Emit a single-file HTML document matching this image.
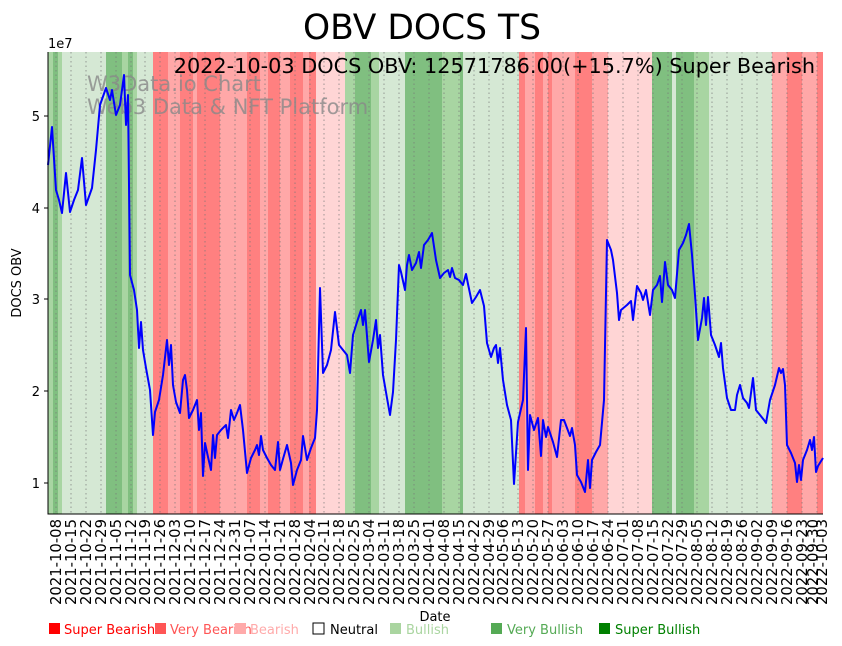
<!DOCTYPE html>
<html><head><meta charset="utf-8"><style>body{margin:0;background:#fff}svg{display:block}text{font-family:"DejaVu Sans","Liberation Sans",sans-serif}</style></head>
<body>
<svg width="842" height="646" viewBox="0 0 842 646" xmlns="http://www.w3.org/2000/svg">
<text x="422" y="39" font-size="34.5" text-anchor="middle">OBV DOCS TS</text>
<g>
<rect x="48" y="52" width="5" height="462" fill="#a8d5a2"/>
<rect x="53" y="52" width="5" height="462" fill="#80bf80"/>
<rect x="58" y="52" width="4" height="462" fill="#a8d5a2"/>
<rect x="62" y="52" width="44" height="462" fill="#d5e8d4"/>
<rect x="106" y="52" width="16" height="462" fill="#80bf80"/>
<rect x="122" y="52" width="6" height="462" fill="#a8d5a2"/>
<rect x="128" y="52" width="5" height="462" fill="#80bf80"/>
<rect x="133" y="52" width="4" height="462" fill="#a8d5a2"/>
<rect x="137" y="52" width="16" height="462" fill="#d5e8d4"/>
<rect x="153" y="52" width="15" height="462" fill="#ff8080"/>
<rect x="168" y="52" width="12" height="462" fill="#ffa8a8"/>
<rect x="180" y="52" width="13" height="462" fill="#ff8080"/>
<rect x="193" y="52" width="4" height="462" fill="#ffa8a8"/>
<rect x="197" y="52" width="23" height="462" fill="#ff8080"/>
<rect x="220" y="52" width="27" height="462" fill="#ffa8a8"/>
<rect x="247" y="52" width="13" height="462" fill="#ff8080"/>
<rect x="260" y="52" width="8" height="462" fill="#ffa8a8"/>
<rect x="268" y="52" width="12" height="462" fill="#ff8080"/>
<rect x="280" y="52" width="10" height="462" fill="#ffa8a8"/>
<rect x="290" y="52" width="13" height="462" fill="#ff8080"/>
<rect x="303" y="52" width="6" height="462" fill="#ffa8a8"/>
<rect x="309" y="52" width="7" height="462" fill="#ff8080"/>
<rect x="316" y="52" width="29" height="462" fill="#ffd5d5"/>
<rect x="345" y="52" width="10" height="462" fill="#a8d5a2"/>
<rect x="355" y="52" width="16" height="462" fill="#80bf80"/>
<rect x="371" y="52" width="8" height="462" fill="#a8d5a2"/>
<rect x="379" y="52" width="26" height="462" fill="#d5e8d4"/>
<rect x="405" y="52" width="37" height="462" fill="#80bf80"/>
<rect x="442" y="52" width="18" height="462" fill="#a8d5a2"/>
<rect x="460" y="52" width="3" height="462" fill="#80bf80"/>
<rect x="463" y="52" width="56" height="462" fill="#d5e8d4"/>
<rect x="519" y="52" width="6" height="462" fill="#ff8080"/>
<rect x="525" y="52" width="10" height="462" fill="#ffa8a8"/>
<rect x="535" y="52" width="8" height="462" fill="#ff8080"/>
<rect x="543" y="52" width="5" height="462" fill="#ffa8a8"/>
<rect x="548" y="52" width="4" height="462" fill="#ff8080"/>
<rect x="552" y="52" width="23" height="462" fill="#ffa8a8"/>
<rect x="575" y="52" width="17" height="462" fill="#ff8080"/>
<rect x="592" y="52" width="16" height="462" fill="#ffa8a8"/>
<rect x="608" y="52" width="44" height="462" fill="#ffd5d5"/>
<rect x="652" y="52" width="20" height="462" fill="#80bf80"/>
<rect x="672" y="52" width="4" height="462" fill="#d5e8d4"/>
<rect x="676" y="52" width="18" height="462" fill="#80bf80"/>
<rect x="694" y="52" width="15" height="462" fill="#a8d5a2"/>
<rect x="709" y="52" width="63" height="462" fill="#d5e8d4"/>
<rect x="772" y="52" width="15" height="462" fill="#ffa8a8"/>
<rect x="787" y="52" width="15" height="462" fill="#ff8080"/>
<rect x="802" y="52" width="15" height="462" fill="#ffa8a8"/>
<rect x="817" y="52" width="6" height="462" fill="#ff8080"/>
</g>
<g stroke="#777" stroke-width="0.7" stroke-dasharray="1.5,3">
<path d="M56 52V514M71 52V514M86 52V514M101 52V514M116 52V514M131 52V514M145 52V514M160 52V514M175 52V514M190 52V514M205 52V514M220 52V514M235 52V514M250 52V514M265 52V514M280 52V514M295 52V514M310 52V514M324 52V514M339 52V514M354 52V514M369 52V514M384 52V514M399 52V514M414 52V514M429 52V514M444 52V514M459 52V514M474 52V514M489 52V514M503 52V514M518 52V514M533 52V514M548 52V514M563 52V514M578 52V514M593 52V514M608 52V514M623 52V514M638 52V514M653 52V514M668 52V514M682 52V514M697 52V514M712 52V514M727 52V514M742 52V514M757 52V514M772 52V514M787 52V514M802 52V514M817 52V514"/>
</g>
<text x="87" y="91" font-size="21" fill="#888" fill-opacity="0.8">W3Data.io Chart</text>
<text x="87" y="114" font-size="21" fill="#888" fill-opacity="0.8">Web3 Data &amp; NFT Platform</text>
<text x="815" y="73" font-size="20.8" text-anchor="end">2022-10-03 DOCS OBV: 12571786.00(+15.7%) Super Bearish</text>
<polyline fill="none" stroke="#0000ff" stroke-width="2" stroke-linejoin="round" points="48,165 52,127 56,190 59,200 62,213 66,173 70,212 74,200 78,190 82,158 86,205 92,188 96,150 100,105 106,88 110,100 112,90 116,115 120,105 124,75 126,125 128,95 130,275 134,290 137,310 139,348 141,322 143,350 146,368 150,390 153,435 155,412 159,400 163,375 167,340 169,365 171,345 173,385 176,402 180,413 183,380 185,375 187,390 189,418 193,410 197,400 199,430 201,413 203,476 205,443 208,457 211,470 213,435 215,458 217,435 221,430 226,425 228,438 231,410 234,420 237,413 240,405 243,430 247,473 251,458 255,450 257,445 259,455 261,436 263,450 267,458 271,465 275,470 278,442 280,470 283,459 287,445 291,463 293,485 297,470 301,460 303,436 307,460 311,448 315,438 317,410 320,288 323,373 327,365 331,350 335,312 339,345 343,350 347,355 350,373 353,335 357,322 361,310 363,325 365,310 369,362 373,340 376,320 378,348 380,335 383,375 387,398 390,415 393,392 396,340 399,265 401,272 405,290 407,265 409,255 412,270 416,263 419,252 421,268 424,245 428,240 432,233 436,260 440,278 444,273 448,270 450,277 452,268 455,278 459,280 463,285 466,274 468,284 472,303 476,297 480,290 484,306 487,343 491,357 494,348 496,345 498,363 500,348 503,380 507,405 511,420 514,484 518,422 523,400 526,328 528,470 530,415 534,430 538,418 541,456 543,420 546,437 548,427 553,442 557,457 561,420 564,420 567,428 570,436 572,428 575,445 577,475 581,482 585,492 588,460 590,488 592,460 596,452 600,445 604,400 607,240 611,250 613,260 617,293 619,320 621,310 627,305 631,301 633,320 637,286 641,293 643,300 646,290 650,315 653,290 657,285 660,276 662,302 665,262 668,285 672,290 675,298 679,250 683,243 686,235 689,224 692,255 695,295 698,340 702,318 704,298 706,325 708,297 711,335 715,345 719,357 721,343 723,368 727,398 731,410 735,410 737,395 740,385 743,398 747,403 749,408 753,378 756,410 760,415 764,420 766,423 770,400 775,385 779,368 781,373 783,369 785,385 787,445 791,453 795,463 797,482 799,465 801,480 803,460 807,450 810,440 812,450 814,437 816,472 818,466 823,458"/>
<path d="M48 52V514H823" fill="none" stroke="#000" stroke-width="1"/>
<g stroke="#000"><path d="M44 483H48M44 391H48M44 299H48M44 208H48M44 116H48"/></g>
<g font-size="13" text-anchor="end">
<text x="40" y="488">1</text><text x="40" y="396">2</text><text x="40" y="304">3</text><text x="40" y="213">4</text><text x="40" y="121">5</text>
</g>
<text x="48" y="48" font-size="13">1e7</text>
<text transform="translate(21,283) rotate(-90)" font-size="13" text-anchor="middle">DOCS OBV</text>
<g font-size="14.8" text-anchor="end">
<text transform="translate(61,519) rotate(-90)">2021-10-08</text>
<text transform="translate(76,519) rotate(-90)">2021-10-15</text>
<text transform="translate(91,519) rotate(-90)">2021-10-22</text>
<text transform="translate(106,519) rotate(-90)">2021-10-29</text>
<text transform="translate(121,519) rotate(-90)">2021-11-05</text>
<text transform="translate(136,519) rotate(-90)">2021-11-12</text>
<text transform="translate(150,519) rotate(-90)">2021-11-19</text>
<text transform="translate(165,519) rotate(-90)">2021-11-26</text>
<text transform="translate(180,519) rotate(-90)">2021-12-03</text>
<text transform="translate(195,519) rotate(-90)">2021-12-10</text>
<text transform="translate(210,519) rotate(-90)">2021-12-17</text>
<text transform="translate(225,519) rotate(-90)">2021-12-24</text>
<text transform="translate(240,519) rotate(-90)">2021-12-31</text>
<text transform="translate(255,519) rotate(-90)">2022-01-07</text>
<text transform="translate(270,519) rotate(-90)">2022-01-14</text>
<text transform="translate(285,519) rotate(-90)">2022-01-21</text>
<text transform="translate(300,519) rotate(-90)">2022-01-28</text>
<text transform="translate(315,519) rotate(-90)">2022-02-04</text>
<text transform="translate(329,519) rotate(-90)">2022-02-11</text>
<text transform="translate(344,519) rotate(-90)">2022-02-18</text>
<text transform="translate(359,519) rotate(-90)">2022-02-25</text>
<text transform="translate(374,519) rotate(-90)">2022-03-04</text>
<text transform="translate(389,519) rotate(-90)">2022-03-11</text>
<text transform="translate(404,519) rotate(-90)">2022-03-18</text>
<text transform="translate(419,519) rotate(-90)">2022-03-25</text>
<text transform="translate(434,519) rotate(-90)">2022-04-01</text>
<text transform="translate(449,519) rotate(-90)">2022-04-08</text>
<text transform="translate(464,519) rotate(-90)">2022-04-15</text>
<text transform="translate(479,519) rotate(-90)">2022-04-22</text>
<text transform="translate(494,519) rotate(-90)">2022-04-29</text>
<text transform="translate(508,519) rotate(-90)">2022-05-06</text>
<text transform="translate(523,519) rotate(-90)">2022-05-13</text>
<text transform="translate(538,519) rotate(-90)">2022-05-20</text>
<text transform="translate(553,519) rotate(-90)">2022-05-27</text>
<text transform="translate(568,519) rotate(-90)">2022-06-03</text>
<text transform="translate(583,519) rotate(-90)">2022-06-10</text>
<text transform="translate(598,519) rotate(-90)">2022-06-17</text>
<text transform="translate(613,519) rotate(-90)">2022-06-24</text>
<text transform="translate(628,519) rotate(-90)">2022-07-01</text>
<text transform="translate(643,519) rotate(-90)">2022-07-08</text>
<text transform="translate(658,519) rotate(-90)">2022-07-15</text>
<text transform="translate(673,519) rotate(-90)">2022-07-22</text>
<text transform="translate(687,519) rotate(-90)">2022-07-29</text>
<text transform="translate(702,519) rotate(-90)">2022-08-05</text>
<text transform="translate(717,519) rotate(-90)">2022-08-12</text>
<text transform="translate(732,519) rotate(-90)">2022-08-19</text>
<text transform="translate(747,519) rotate(-90)">2022-08-26</text>
<text transform="translate(762,519) rotate(-90)">2022-09-02</text>
<text transform="translate(777,519) rotate(-90)">2022-09-09</text>
<text transform="translate(792,519) rotate(-90)">2022-09-16</text>
<text transform="translate(807,519) rotate(-90)">2022-09-23</text>
<text transform="translate(818,519) rotate(-90)">2022-09-30</text>
<text transform="translate(827,519) rotate(-90)">2022-10-03</text>
</g>
<text x="435" y="621" font-size="13" text-anchor="middle">Date</text>
<g font-size="13">
<rect x="49" y="623" width="11" height="11" fill="#ff0000"/><text x="64" y="634" fill="#ff0000">Super Bearish</text>
<rect x="155" y="623" width="11" height="11" fill="#ff5555"/><text x="170" y="634" fill="#ff5555">Very Bearish</text>
<rect x="235" y="623" width="11" height="11" fill="#ffaaaa"/><text x="250" y="634" fill="#ffaaaa">Bearish</text>
<rect x="313" y="623" width="11" height="11" fill="none" stroke="#000"/><text x="330" y="634" fill="#000">Neutral</text>
<rect x="390" y="623" width="11" height="11" fill="#aad5a0"/><text x="406" y="634" fill="#aad5a0">Bullish</text>
<rect x="491" y="623" width="11" height="11" fill="#55aa55"/><text x="507" y="634" fill="#55aa55">Very Bullish</text>
<rect x="599" y="623" width="11" height="11" fill="#008000"/><text x="615" y="634" fill="#008000">Super Bullish</text>
</g>
</svg>
</body></html>
